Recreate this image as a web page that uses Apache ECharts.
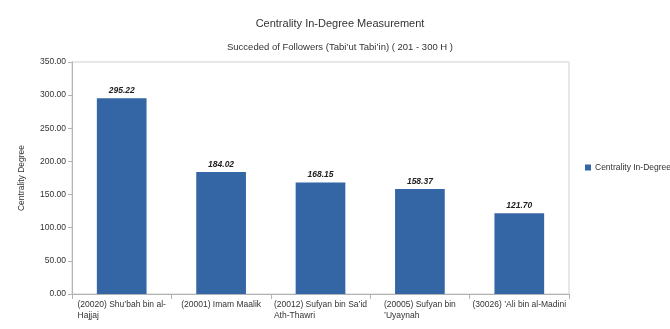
<!DOCTYPE html>
<html>
<head>
<meta charset="utf-8">
<script src="https://cdn.jsdelivr.net/npm/echarts@6/dist/echarts.min.js"></script>
<style>
  html, body { margin: 0; padding: 0; background: #fff; }
  #chart { width: 670px; height: 329px; }
</style>
</head>
<body>
<div id="chart"></div>
<script>
// Narrators (category labels, pre-wrapped as they appear under each bar)
const categories = [
  "(20020) Shu’bah bin al-\nHajjaj",
  "(20001) Imam Maalik",
  "(20012) Sufyan bin Sa’id\nAth-Thawri",
  "(20005) Sufyan bin\n’Uyaynah",
  "(30026) ’Ali bin al-Madini"
];
// In-degree centrality of each narrator
const inDegree = [295.22, 184.02, 168.15, 158.37, 121.70];
// Value axis ticks
const yTicks = [0, 50, 100, 150, 200, 250, 300, 350];

const FONT = '"Liberation Sans", Arial, sans-serif';
const chart = echarts.init(document.getElementById('chart'));

chart.setOption({
  animation: false,
  backgroundColor: '#ffffff',
  textStyle: { fontFamily: FONT },
  title: [
    {
      text: 'Centrality In-Degree Measurement',
      left: 340, top: 18, padding: 0, textAlign: 'center',
      textStyle: { fontFamily: FONT, fontSize: 11, fontWeight: 'normal', color: '#333' }
    },
    {
      text: 'Succeded of Followers (Tabi’ut Tabi’in) ( 201 - 300 H )',
      left: 340, top: 42, padding: 0, textAlign: 'center',
      textStyle: { fontFamily: FONT, fontSize: 9.5, fontWeight: 'normal', color: '#333' }
    }
  ],
  legend: {
    left: 580, top: 158,
    icon: 'rect', itemWidth: 6, itemHeight: 6, itemGap: 4,
    textStyle: { fontFamily: FONT, fontSize: 8.5, color: '#333', padding: [0, 0, 0, -1] },
    data: ['Centrality In-Degree']
  },
  grid: {
    left: 72, right: 101, top: 62, bottom: 35,
    show: true, borderColor: '#d0d0d0', borderWidth: 1, backgroundColor: 'transparent'
  },
  xAxis: {
    type: 'category',
    data: categories,
    boundaryGap: true,
    axisLine: { lineStyle: { color: '#b3b3b3' } },
    axisTick: { show: true, alignWithLabel: false, length: 5, lineStyle: { color: '#b3b3b3' } },
    axisLabel: {
      interval: 0, margin: 5,
      formatter: v => v.split('\n').map(l => '{l|' + l + '}').join('\n'),
      rich: {
        l: { align: 'left', fontFamily: FONT, fontSize: 8.5, color: '#333', lineHeight: 11 }
      }
    }
  },
  yAxis: {
    type: 'value',
    min: yTicks[0], max: yTicks[yTicks.length - 1], interval: yTicks[1] - yTicks[0],
    name: 'Centrality Degree',
    nameLocation: 'middle', nameGap: 46, nameRotate: 90,
    nameTextStyle: { fontFamily: FONT, fontSize: 8.5, color: '#333' },
    axisLine: { show: true, lineStyle: { color: '#b3b3b3' } },
    axisTick: { show: true, length: 4, lineStyle: { color: '#b3b3b3' } },
    splitLine: { show: false },
    axisLabel: {
      margin: 6,
      fontFamily: FONT, fontSize: 8.5, color: '#333',
      formatter: v => v.toFixed(2)
    }
  },
  series: [{
    name: 'Centrality In-Degree',
    type: 'bar',
    data: inDegree,
    barWidth: '50%',
    itemStyle: { color: '#3465a4' },
    label: {
      show: true, position: 'top', distance: 3,
      fontFamily: FONT, fontSize: 8.5, fontWeight: 'bold', fontStyle: 'italic', color: '#222',
      formatter: p => p.value.toFixed(2)
    }
  }]
});
</script>
</body>
</html>
